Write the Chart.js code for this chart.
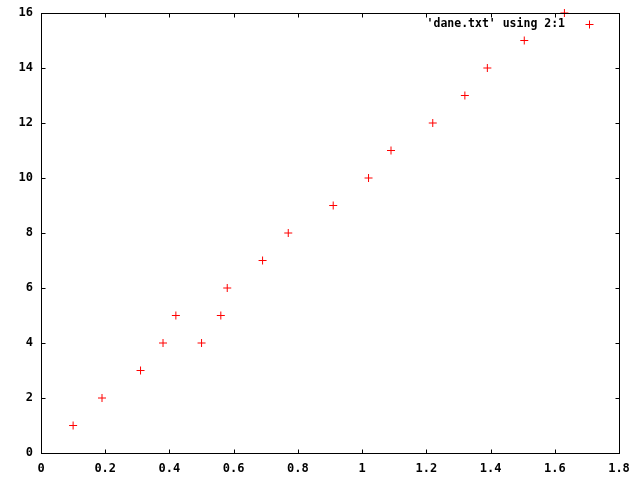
<!DOCTYPE html>
<html>
<head>
<meta charset="utf-8">
<script src="https://cdn.jsdelivr.net/npm/chart.js@4/dist/chart.umd.min.js"></script>
<style>
  html, body { margin: 0; padding: 0; background: #fff; }
  #wrap { width: 640px; height: 480px; }
</style>
</head>
<body>
<div id="wrap"><canvas id="plot" width="640" height="480"></canvas></div>
<script>
// dane.txt: kolumna 2 (x), kolumna 1 (y)
const xValues = [0.10, 0.19, 0.31, 0.38, 0.42, 0.50, 0.56, 0.58, 0.69, 0.77, 0.91, 1.02, 1.09, 1.22, 1.32, 1.39, 1.505, 1.63];
const yValues = [1, 2, 3, 4, 5, 4, 5, 6, 7, 8, 9, 10, 11, 12, 13, 14, 15, 16];
const seriesLabel = "'dane.txt' using 2:1";
const xTicks = [0, 0.2, 0.4, 0.6, 0.8, 1, 1.2, 1.4, 1.6, 1.8];
const yTicks = [0, 2, 4, 6, 8, 10, 12, 14, 16];

const points = xValues.map((x, i) => ({ x: x, y: yValues[i] }));
const FONT = { family: '"DejaVu Sans Mono", monospace', size: 12, weight: 'bold' };

// ramka i ticki do środka, jak w gnuplocie
const frame = {
  id: 'frame',
  afterDraw(chart) {
    const ctx = chart.ctx;
    const a = chart.chartArea;
    const sx = chart.scales.x, sy = chart.scales.y;
    const L = Math.round(a.left) + 0.5, R = Math.round(a.right) + 0.5;
    const T = Math.round(a.top) + 0.5, B = Math.round(a.bottom) + 0.5;
    ctx.save();
    ctx.strokeStyle = '#000';
    ctx.lineWidth = 1;
    ctx.strokeRect(L, T, R - L, B - T);
    ctx.beginPath();
    xTicks.forEach(v => {
      const px = Math.round(sx.getPixelForValue(v)) + 0.5;
      ctx.moveTo(px, B); ctx.lineTo(px, B - 4);
      ctx.moveTo(px, T); ctx.lineTo(px, T + 4);
    });
    yTicks.forEach(v => {
      const py = Math.round(sy.getPixelForValue(v)) + 0.5;
      ctx.moveTo(L, py); ctx.lineTo(L + 4, py);
      ctx.moveTo(R, py); ctx.lineTo(R - 4, py);
    });
    ctx.stroke();

    // legenda: tekst, potem znacznik
    const ds = chart.data.datasets[0];
    const ly = 24;
    ctx.font = 'bold 11.5px "DejaVu Sans Mono", monospace';
    ctx.fillStyle = '#000';
    ctx.textAlign = 'right';
    ctx.textBaseline = 'middle';
    ctx.fillText(ds.label, 565, ly);
    ctx.strokeStyle = ds.borderColor;
    ctx.beginPath();
    ctx.moveTo(585.5, ly + 0.5); ctx.lineTo(593.5, ly + 0.5);
    ctx.moveTo(589.5, ly - 3.5); ctx.lineTo(589.5, ly + 4.5);
    ctx.stroke();
    ctx.restore();
  }
};

new Chart(document.getElementById('plot'), {
  type: 'scatter',
  data: {
    datasets: [{
      label: seriesLabel,
      data: points,
      pointStyle: 'cross',
      pointRadius: 4,
      pointHoverRadius: 4,
      borderColor: '#ff0000',
      backgroundColor: '#ff0000',
      borderWidth: 1,
      showLine: false,
      clip: false
    }]
  },
  options: {
    responsive: false,
    animation: false,
    events: [],
    layout: { padding: { top: 13, right: 21, left: 0, bottom: 0 } },
    plugins: {
      legend: { display: false },
      tooltip: { enabled: false }
    },
    scales: {
      x: {
        type: 'linear',
        min: 0, max: 1.8,
        afterFit: s => { s.height = 27; },
        afterBuildTicks: s => { s.ticks = xTicks.map(v => ({ value: v })); },
        grid: { display: false },
        border: { display: false },
        ticks: {
          color: '#000', font: FONT, padding: 1, maxRotation: 0, autoSkip: false,
          callback: v => String(Number(v.toFixed(1)))
        }
      },
      y: {
        type: 'linear',
        min: 0, max: 16,
        afterFit: s => { s.width = 41; },
        afterBuildTicks: s => { s.ticks = yTicks.map(v => ({ value: v })); },
        grid: { display: false },
        border: { display: false },
        ticks: { color: '#000', font: FONT, padding: 0, autoSkip: false }
      }
    }
  },
  plugins: [frame]
});
</script>
</body>
</html>
